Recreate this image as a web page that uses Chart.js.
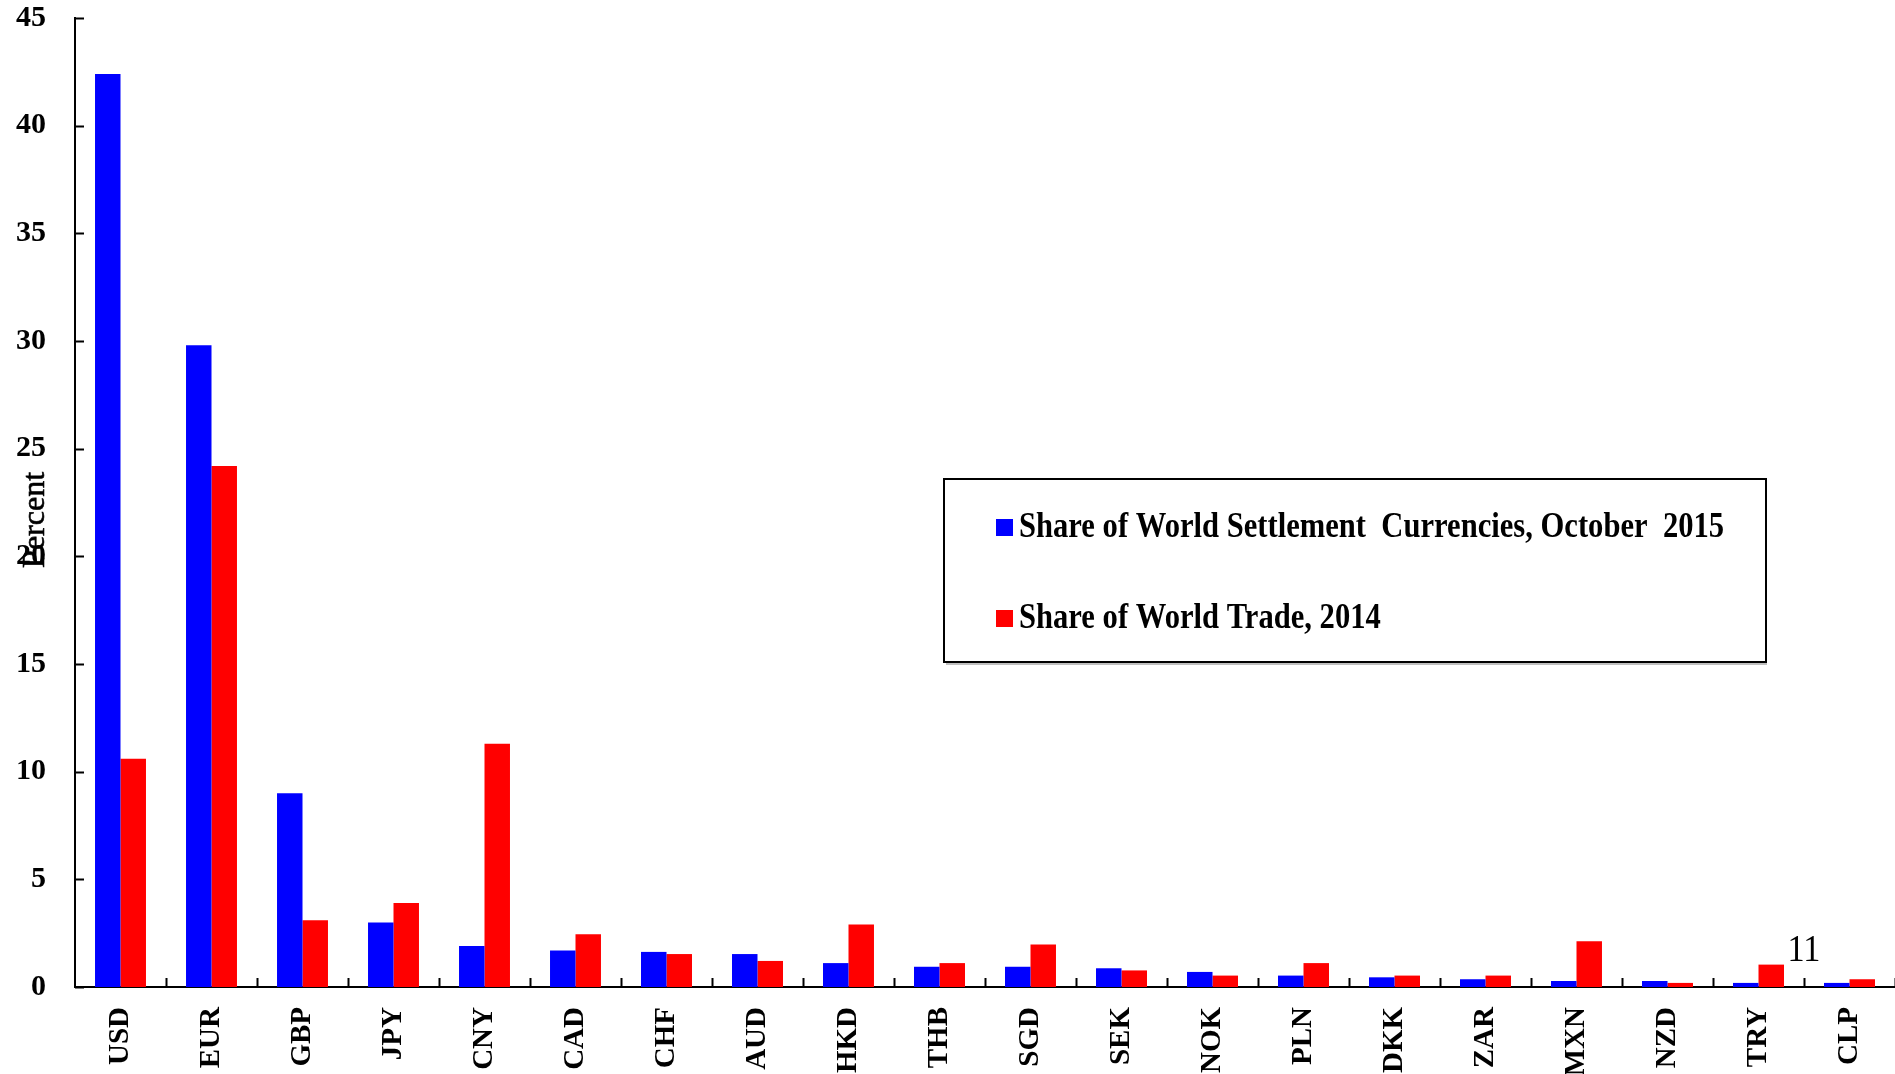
<!DOCTYPE html>
<html>
<head>
<meta charset="utf-8">
<script src="https://cdn.jsdelivr.net/npm/chart.js@4/dist/chart.umd.min.js"></script>
<style>
  html, body { margin: 0; padding: 0; background: #fff; }
  #wrap { position: relative; width: 1895px; height: 1074px; }
</style>
</head>
<body>
<div id="wrap"><canvas id="shareChart"></canvas></div>
<script>
// currencies in order of settlement share
const currencies = ['USD', 'EUR', 'GBP', 'JPY', 'CNY', 'CAD', 'CHF', 'AUD', 'HKD', 'THB',
                    'SGD', 'SEK', 'NOK', 'PLN', 'DKK', 'ZAR', 'MXN', 'NZD', 'TRY', 'CLP'];
const settlementShare = [42.4, 29.8, 9.0, 3.0, 1.9, 1.7, 1.63, 1.53, 1.11, 0.94,
                         0.94, 0.87, 0.70, 0.53, 0.45, 0.36, 0.28, 0.28, 0.19, 0.19];
const tradeShare = [10.6, 24.2, 3.1, 3.9, 11.3, 2.45, 1.53, 1.21, 2.9, 1.11,
                    1.97, 0.77, 0.53, 1.11, 0.53, 0.53, 2.12, 0.19, 1.04, 0.36];
const seriesNames = ['Share of World Settlement  Currencies, October  2015', 'Share of World Trade, 2014'];
const yTickValues = [0, 5, 10, 15, 20, 25, 30, 35, 40, 45];
const axisTitle = 'Percent';
const cornerNote = '11';

const serif = '"Liberation Serif", "Times New Roman", serif';
const legendBox = { left: 944, top: 479, width: 822, height: 183 };

// inside tick marks, axis title, boxed legend and the stray note
const extras = {
  id: 'extras',
  afterDraw(chart) {
    const ctx = chart.ctx;
    const area = chart.chartArea;
    const x = chart.scales.x;
    const y = chart.scales.y;
    ctx.save();
    ctx.strokeStyle = '#000';
    ctx.lineWidth = 2;
    ctx.beginPath();
    yTickValues.forEach(v => {
      const py = Math.round(y.getPixelForValue(v)) + 0.5;
      ctx.moveTo(area.left, py);
      ctx.lineTo(area.left + 9, py);
    });
    for (let i = 1; i <= currencies.length; i++) {
      const px = Math.round(x.getPixelForValue(i - 0.5)) + 0.5;
      ctx.moveTo(px, area.bottom);
      ctx.lineTo(px, area.bottom - 9);
    }
    ctx.stroke();

    // y axis title, drawn over the tick labels
    ctx.save();
    ctx.translate(36, area.top + (area.bottom - area.top) * 0.518);
    ctx.rotate(-Math.PI / 2);
    ctx.font = '32px ' + serif;
    ctx.fillStyle = '#000';
    ctx.strokeStyle = '#000';
    ctx.lineWidth = 0.6;
    ctx.textAlign = 'center';
    ctx.textBaseline = 'middle';
    ctx.fillText(axisTitle, 0, 0);
    ctx.strokeText(axisTitle, 0, 0);
    ctx.restore();

    // legend
    ctx.fillStyle = '#fff';
    ctx.fillRect(legendBox.left, legendBox.top, legendBox.width, legendBox.height);
    ctx.lineWidth = 2;
    ctx.strokeStyle = '#000';
    ctx.strokeRect(legendBox.left, legendBox.top, legendBox.width, legendBox.height);
    ctx.strokeStyle = 'rgba(0,0,0,0.25)';
    ctx.beginPath();
    ctx.moveTo(legendBox.left + 2, legendBox.top + legendBox.height + 2);
    ctx.lineTo(legendBox.left + legendBox.width + 1, legendBox.top + legendBox.height + 2);
    ctx.stroke();
    const rows = [57, 148];
    chart.data.datasets.forEach((ds, i) => {
      const base = legendBox.top + rows[i];
      ctx.fillStyle = ds.backgroundColor;
      ctx.fillRect(legendBox.left + 52, base - 17, 17, 17);
      ctx.save();
      ctx.translate(legendBox.left + 75, base + 1);
      ctx.scale(0.85, 1);
      ctx.font = 'bold 36px ' + serif;
      ctx.fillStyle = '#000';
      ctx.textBaseline = 'alphabetic';
      ctx.fillText(ds.label, 0, 0);
      ctx.restore();
    });

    // note beside the last pair of bars
    ctx.save();
    ctx.translate(x.getPixelForValue(18.5), y.getPixelForValue(1.2));
    ctx.scale(0.9, 1);
    ctx.font = '38px ' + serif;
    ctx.fillStyle = '#000';
    ctx.textAlign = 'center';
    ctx.textBaseline = 'alphabetic';
    ctx.fillText(cornerNote, 0, 0);
    ctx.restore();
    ctx.restore();
  }
};

new Chart(document.getElementById('shareChart'), {
  type: 'bar',
  data: {
    labels: currencies,
    datasets: [{
      label: seriesNames[0],
      data: settlementShare,
      backgroundColor: '#0000ff',
      borderWidth: 0,
      barPercentage: 1,
      categoryPercentage: 0.56
    }, {
      label: seriesNames[1],
      data: tradeShare,
      backgroundColor: '#ff0000',
      borderWidth: 0,
      barPercentage: 1,
      categoryPercentage: 0.56
    }]
  },
  options: {
    responsive: true,
    maintainAspectRatio: false,
    animation: false,
    devicePixelRatio: 1,
    layout: { padding: { top: 18, right: 0, bottom: 0, left: 0 } },
    plugins: {
      legend: { display: false },
      tooltip: { enabled: false }
    },
    scales: {
      x: {
        grid: { display: false, drawTicks: false },
        border: { display: true, color: '#000', width: 2 },
        ticks: {
          color: '#000',
          font: { family: serif, weight: 'bold', size: 29 },
          minRotation: 90,
          maxRotation: 90,
          autoSkip: false,
          padding: 20
        },
        afterFit(scale) {
          scale.height = 87;
          scale.paddingLeft = 0;
          scale.paddingRight = 0;
        }
      },
      y: {
        min: 0,
        max: 45,
        grid: { display: false, drawTicks: false },
        border: { display: true, color: '#000', width: 2 },
        ticks: {
          stepSize: 5,
          color: '#000',
          font: { family: serif, weight: 'bold', size: 30 },
          padding: 29
        },
        afterFit(scale) {
          scale.width = 75;
          scale.paddingTop = 0;
          scale.paddingBottom = 0;
        }
      }
    }
  },
  plugins: [extras]
});
</script>
</body>
</html>
